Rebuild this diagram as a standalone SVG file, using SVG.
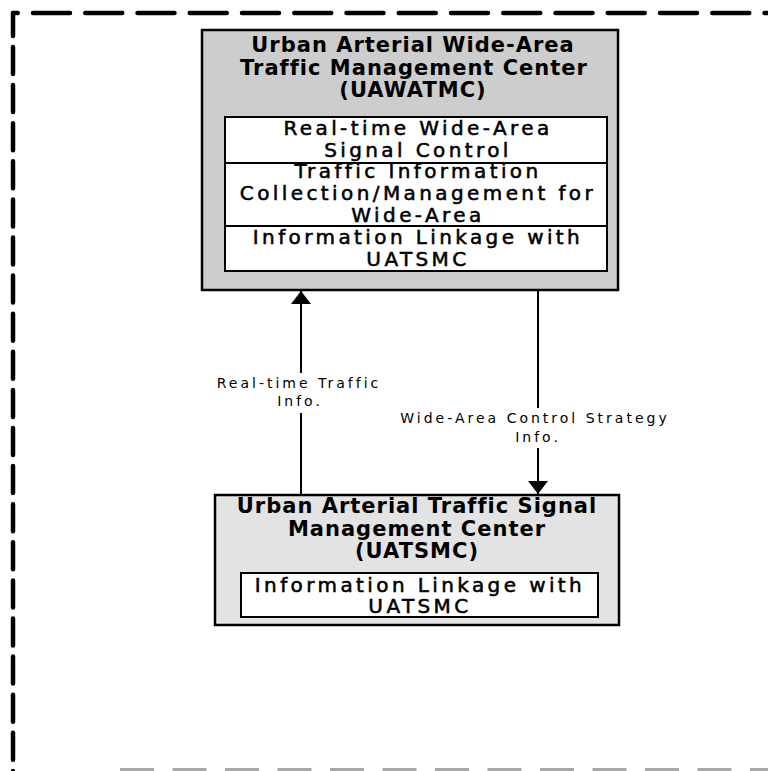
<svg xmlns="http://www.w3.org/2000/svg" width="768" height="771" viewBox="0 0 768 771">
  <style>
    .outer { stroke: #000; stroke-width: 2.5; }
    .inner { fill: #fff; stroke: #000; stroke-width: 2; }
    .title { font-family: "DejaVu Sans", "Liberation Sans", sans-serif; font-weight: bold; font-size: 21px; letter-spacing: 1px; fill: #000; text-anchor: middle; }
    .item { font-family: "DejaVu Sans", "Liberation Sans", sans-serif; font-size: 20px; letter-spacing: 3.4px; fill: #000; stroke: #000; stroke-width: 0.55; text-anchor: middle; }
    .lbl { font-family: "DejaVu Sans", "Liberation Sans", sans-serif; font-size: 14px; letter-spacing: 3px; fill: #000; text-anchor: middle; }
    .conn { fill: none; stroke: #000; stroke-width: 2; }
    .frame { fill: none; stroke: #000; stroke-width: 4.5; stroke-linecap: round; }
  </style>
  <defs>
    <marker id="arrow" viewBox="0 0 13 20" refX="13" refY="10" markerWidth="13" markerHeight="20" markerUnits="userSpaceOnUse" orient="auto">
      <path d="M0,0 L13,10 L0,20 z" fill="#000"/>
    </marker>
  </defs>

  <g id="frame">
    <line class="frame" x1="13" y1="13" x2="768" y2="13" stroke-dasharray="37 15.25" stroke-dashoffset="32.25"/>
    <line class="frame" x1="13" y1="13" x2="13" y2="771" stroke-dasharray="27 11.1" stroke-dashoffset="4.1"/>
    <line x1="120" y1="769.5" x2="768" y2="769.5" stroke="#a8a8a8" stroke-width="3" stroke-dasharray="34 18.5"/>
  </g>

  <g id="uawatmc">
    <rect class="outer" x="202" y="30" width="416" height="260" fill="#cdcdcd"/>
    <text class="title" x="413" y="52">Urban Arterial Wide-Area</text>
    <text class="title" x="414" y="75">Traffic Management Center</text>
    <text class="title" x="413" y="97">(UAWATMC)</text>
    <rect class="inner" x="225" y="117" width="382" height="154"/>
    <line x1="225" y1="163" x2="607" y2="163" stroke="#000" stroke-width="2"/>
    <line x1="225" y1="226" x2="607" y2="226" stroke="#000" stroke-width="2"/>
    <text class="item" x="418" y="135">Real-time Wide-Area</text>
    <text class="item" x="418" y="157">Signal Control</text>
    <text class="item" x="418" y="178">Traffic Information</text>
    <text class="item" x="418" y="200">Collection/Management for</text>
    <text class="item" x="418" y="222">Wide-Area</text>
    <text class="item" x="418" y="244">Information Linkage with</text>
    <text class="item" x="418" y="266">UATSMC</text>
  </g>

  <g id="uatsmc">
    <rect class="outer" x="215" y="495" width="404" height="130" fill="#e3e3e3"/>
    <text class="title" x="417" y="513">Urban Arterial Traffic Signal</text>
    <text class="title" x="417" y="536">Management Center</text>
    <text class="title" x="417" y="558">(UATSMC)</text>
    <rect class="inner" x="241" y="573" width="357" height="44"/>
    <text class="item" x="420" y="592">Information Linkage with</text>
    <text class="item" x="420" y="613">UATSMC</text>
  </g>

  <g id="connectors">
    <path class="conn" d="M301,495 V413 M301,373 V291" marker-end="url(#arrow)"/>
    <path class="conn" d="M538,291 V408 M538,448 V494" marker-end="url(#arrow)"/>
    <text class="lbl" x="299" y="388">Real-time Traffic</text>
    <text class="lbl" x="300" y="406">Info.</text>
    <text class="lbl" x="535" y="423">Wide-Area Control Strategy</text>
    <text class="lbl" x="538" y="442">Info.</text>
  </g>
</svg>
